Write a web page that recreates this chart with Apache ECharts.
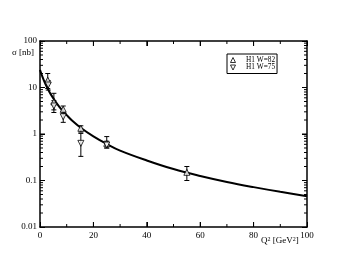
<!DOCTYPE html>
<html><head><meta charset="utf-8">
<script src="https://cdn.jsdelivr.net/npm/echarts@6/dist/echarts.min.js"></script>
<style>html,body{margin:0;padding:0;background:#fff}#c{width:346px;height:268px}</style>
</head><body><div id="c"></div>
<script>
const q2Curve = [0,1,2,3,4,6,8,10,12,15,20,25,30,40,50,60,70,80,90,100];
const sigmaCurve = [24,16.5,12,9.2,7.2,4.8,3.4,2.55,1.95,1.4,0.89,0.61,0.44,0.27,0.176,0.125,0.093,0.072,0.057,0.046];
const q2W82 = [2.9,5.2,8.7,15.3,25,55];
const sigW82 = [14.4,4.9,3.4,1.33,0.63,0.15];
const lowW82 = [9.5,3.3,2.8,1.1,0.5,0.1];
const highW82 = [20,7.5,4.0,1.5,0.88,0.2];
const q2W75 = [3.1,5.2,8.7,15.3,25];
const sigW75 = [11.3,4.0,2.35,0.63,0.58];
const lowW75 = [8.8,2.9,1.78,0.33,0.5];
const highW75 = [14,5.2,3.0,1.03,0.7];
const minorY = [0.02,0.03,0.04,0.05,0.06,0.07,0.08,0.09,0.2,0.3,0.4,0.5,0.6,0.7,0.8,0.9,2,3,4,5,6,7,8,9,20,30,40,50,60,70,80,90];
const majorY = [0.1,1,10];
const minorX = [10,30,50,70,90];
const majorX = [20,40,60,80];
const xTicks = [0,20,40,60,80,100];
const yTicks = [0.01,0.1,1,10,100];

const FONT = '"Liberation Serif", "DejaVu Serif", serif';
const TICK = '#000';
const chart = echarts.init(document.getElementById('c'), null, {renderer:'canvas'});

function errItem(params, api){
  const x = api.value(0), lo = api.value(1), hi = api.value(2);
  const p1 = api.coord([x, lo]), p2 = api.coord([x, hi]);
  const w = 2.5, st = {stroke:'#000', lineWidth:1};
  return {type:'group', children:[
    {type:'line', shape:{x1:p1[0],y1:p1[1],x2:p2[0],y2:p2[1]}, style:st},
    {type:'line', shape:{x1:p1[0]-w,y1:p1[1],x2:p1[0]+w,y2:p1[1]}, style:st},
    {type:'line', shape:{x1:p2[0]-w,y1:p2[1],x2:p2[0]+w,y2:p2[1]}, style:st}
  ]};
}
// kind: 0 minor y, 1 minor x, 2 major y, 3 major x
function tickItem(params, api){
  const kind = api.value(0), v = api.value(1);
  const len = kind >= 2 ? 5 : 3;
  const st = {stroke:TICK, lineWidth:1};
  if (kind === 0 || kind === 2) {
    const a = api.coord([0, v]), b = api.coord([100, v]);
    return {type:'group', children:[
      {type:'line', shape:{x1:a[0],y1:a[1],x2:a[0]+len,y2:a[1]}, style:st},
      {type:'line', shape:{x1:b[0],y1:b[1],x2:b[0]-len,y2:b[1]}, style:st}
    ]};
  }
  const a = api.coord([v, 0.01]), b = api.coord([v, 100]);
  return {type:'group', children:[
    {type:'line', shape:{x1:a[0],y1:a[1],x2:a[0],y2:a[1]-len}, style:st},
    {type:'line', shape:{x1:b[0],y1:b[1],x2:b[0],y2:b[1]+len}, style:st}
  ]};
}
const tickData = minorY.map(v => [0, v, 1])
  .concat(minorX.map(v => [1, v, 1]))
  .concat(majorY.map(v => [2, v, 1]))
  .concat(majorX.map(v => [3, v, 1]));

function xAxisOf(pos, showLabel){
  return {
    type:'value', min:0, max:100, interval:20, position:pos,
    axisLine:{show:true, onZero:false, lineStyle:{color:'#000', width:1.5}},
    axisTick:{show:true, inside:true, length:5, lineStyle:{color:TICK, width:1}},
    splitLine:{show:false},
    axisLabel:{show:showLabel, margin:4, color:'#000', fontSize:9, fontFamily:FONT,
      formatter: v => xTicks.includes(v) ? String(v) : ''}
  };
}
function yAxisOf(pos, showLabel){
  return {
    type:'log', logBase:10, min:0.01, max:100, position:pos,
    axisLine:{show:true, onZero:false, lineStyle:{color:'#000', width:1.5}},
    axisTick:{show:true, inside:true, length:5, lineStyle:{color:TICK, width:1}},
    splitLine:{show:false},
    axisLabel:{show:showLabel, margin:3, color:'#000', fontSize:9, fontFamily:FONT,
      formatter: v => { const t = yTicks.find(k => Math.abs(k - v)/k < 1e-6); return t === undefined ? '' : String(t); }}
  };
}
const hollow = {color:'#fff', borderColor:'#000', borderWidth:1};
chart.setOption({
  animation:false,
  backgroundColor:'#fff',
  grid:{left:40, right:39, top:41, bottom:41},
  xAxis:[xAxisOf('bottom', true), xAxisOf('top', false)],
  yAxis:[yAxisOf('left', true), yAxisOf('right', false)],
  legend:{
    orient:'vertical', left:227, top:54, padding:[2.5,2,2.5,3], itemGap:0.5,
    borderColor:'#000', borderWidth:1, backgroundColor:'#fff',
    itemWidth:6, itemHeight:5,
    textStyle:{fontSize:7.3, lineHeight:6, fontFamily:FONT, color:'#000', padding:[0,0,0,5]},
    data:[
      {name:'H1 W=82', icon:'path://M5,0L10,10L0,10Z', itemStyle:hollow},
      {name:'H1 W=75', icon:'path://M0,0L10,0L5,10Z', itemStyle:hollow}
    ]
  },
  graphic:[
    {type:'text', left:12, top:48, style:{text:'σ [nb]', font:'9px '+FONT, fill:'#000'}},
    {type:'text', left:261, top:236, style:{
      text:'Q{s|2} [GeV{s|2}]', font:'9px '+FONT, fill:'#000',
      rich:{s:{fontSize:6, fontFamily:FONT, verticalAlign:'top', lineHeight:6, padding:[0,0,7,0]}}}}
  ],
  series:[
    {type:'line', name:'curve', data:q2Curve.map((x,i)=>[x, sigmaCurve[i]]), smooth:0.4,
     showSymbol:false, lineStyle:{color:'#000', width:2}, z:3},
    {type:'custom', name:'err82', renderItem:errItem, data:q2W82.map((x,i)=>[x, lowW82[i], highW82[i]]), z:4, silent:true},
    {type:'custom', name:'err75', renderItem:errItem, data:q2W75.map((x,i)=>[x, lowW75[i], highW75[i]]), z:4, silent:true},
    {type:'scatter', name:'H1 W=82', data:q2W82.map((x,i)=>[x, sigW82[i]]), symbol:'triangle', symbolSize:6,
     itemStyle:hollow, z:5},
    {type:'scatter', name:'H1 W=75', data:q2W75.map((x,i)=>[x, sigW75[i]]), symbol:'triangle', symbolSize:6, symbolRotate:180,
     itemStyle:hollow, z:5},
    {type:'custom', name:'ticks', renderItem:tickItem, data:tickData, encode:{x:2, y:2}, z:6, silent:true}
  ]
});
</script></body></html>
